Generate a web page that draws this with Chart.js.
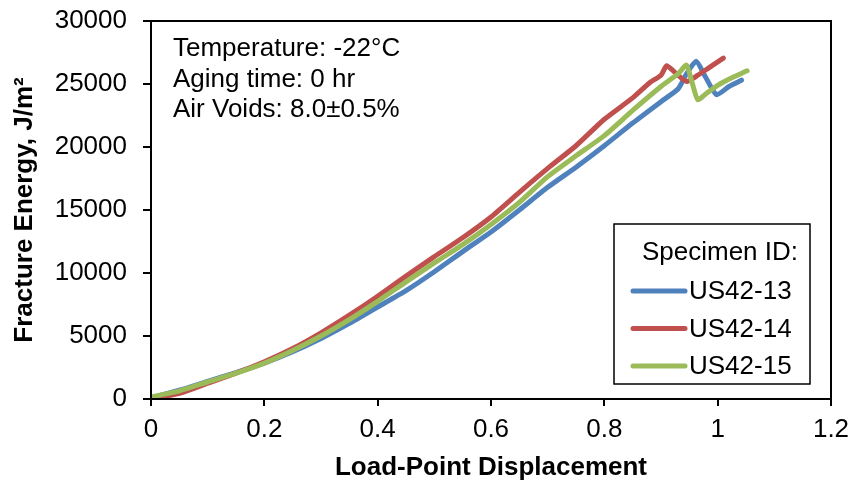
<!DOCTYPE html>
<html>
<head>
<meta charset="utf-8">
<script src="https://cdn.jsdelivr.net/npm/chart.js@4.4.1/dist/chart.umd.min.js"></script>
<style>
  html, body { margin: 0; padding: 0; background: #fff; }
  #wrap { width: 855px; height: 485px; }
</style>
</head>
<body>
<div id="wrap"><canvas id="chartCanvas" width="855" height="485"></canvas></div>
<script>
// Datos (desplazamiento, energía de fractura)
const x13 = [0, 0.05, 0.1, 0.15, 0.2, 0.25, 0.3, 0.35, 0.4, 0.45, 0.5, 0.55, 0.6, 0.65, 0.7, 0.75, 0.8, 0.85, 0.9, 0.93, 0.945, 0.962, 0.978, 0.998, 1.02, 1.042];
const y13 = [100, 700, 1400, 2100, 2850, 3750, 4800, 6000, 7300, 8600, 10100, 11700, 13250, 15000, 16800, 18400, 20100, 21900, 23600, 24600, 25800, 26800, 25600, 24150, 24800, 25300];

const x14 = [0, 0.05, 0.1, 0.15, 0.2, 0.25, 0.3, 0.35, 0.4, 0.45, 0.5, 0.55, 0.6, 0.65, 0.7, 0.75, 0.8, 0.85, 0.88, 0.9, 0.91, 0.925, 0.945, 0.965, 0.985, 1.01];
const y14 = [0, 450, 1250, 2050, 2950, 4000, 5250, 6650, 8150, 9750, 11300, 12800, 14450, 16400, 18300, 20100, 22200, 23900, 25100, 25700, 26450, 25900, 25200, 25700, 26300, 27050];

const x15 = [0, 0.05, 0.1, 0.15, 0.2, 0.25, 0.3, 0.35, 0.4, 0.45, 0.5, 0.55, 0.6, 0.65, 0.7, 0.75, 0.8, 0.85, 0.9, 0.93, 0.945, 0.955, 0.965, 0.98, 1.0, 1.025, 1.052];
const y15 = [150, 650, 1350, 2050, 2850, 3850, 5000, 6300, 7750, 9300, 10800, 12250, 13850, 15600, 17650, 19300, 20900, 22900, 24800, 25800, 26500, 25100, 23750, 24250, 24900, 25500, 26050];

const especimenes = ['US42-13', 'US42-14', 'US42-15'];
const colores = ['#4F81BD', '#C0504D', '#9BBB59'];
const notas = ['Temperature: -22°C', 'Aging time: 0 hr', 'Air Voids: 8.0±0.5%'];

function puntos(xs, ys) {
    return xs.map((x, i) => ({ x: x, y: ys[i] }));
}

const FUENTE = 'Arial, "Liberation Sans", sans-serif';

// Marco del área de trazado, notas y leyenda dibujadas a mano
const extras = {
    id: 'extras',
    afterDraw(chart) {
        const c = chart.ctx;
        const a = chart.chartArea;
        c.save();
        c.strokeStyle = '#000';
        c.lineWidth = 2;
        c.strokeRect(a.left, a.top, a.right - a.left, a.bottom - a.top);

        // notas
        c.fillStyle = '#000';
        c.font = '26px ' + FUENTE;
        c.textAlign = 'left';
        c.textBaseline = 'alphabetic';
        notas.forEach((t, i) => c.fillText(t, 173, 56 + i * 30.5));

        // leyenda
        c.lineWidth = 1.5;
        c.strokeRect(614, 224, 196, 160);
        c.textAlign = 'right';
        c.textBaseline = 'middle';
        c.fillText('Specimen ID:', 798, 253);
        c.textAlign = 'left';
        chart.data.datasets.forEach((ds, i) => {
            const y = 291 + i * 37.5;
            c.strokeStyle = ds.borderColor;
            c.lineWidth = 5;
            c.lineCap = 'round';
            c.beginPath();
            c.moveTo(633, y);
            c.lineTo(685, y);
            c.stroke();
            c.fillStyle = '#000';
            c.fillText(ds.label, 689, y + 1);
        });
        c.restore();
    }
};

const ctx = document.getElementById('chartCanvas').getContext('2d');
const chart = new Chart(ctx, {
    type: 'scatter',
    data: {
        datasets: [
            { label: especimenes[0], data: puntos(x13, y13), borderColor: colores[0], order: 3 },
            { label: especimenes[1], data: puntos(x14, y14), borderColor: colores[1], order: 2 },
            { label: especimenes[2], data: puntos(x15, y15), borderColor: colores[2], order: 1 }
        ].map(d => Object.assign(d, {
            showLine: true,
            borderWidth: 5,
            pointRadius: 0,
            tension: 0.2,
            borderCapStyle: 'round',
            borderJoinStyle: 'round',
            backgroundColor: d.borderColor
        }))
    },
    options: {
        responsive: false,
        animation: false,
        layout: { padding: { top: 21, right: 24, left: 0, bottom: 0 } },
        plugins: {
            legend: { display: false },
            tooltip: { enabled: false }
        },
        scales: {
            x: {
                type: 'linear',
                min: 0,
                max: 1.2,
                afterFit: s => { s.height = 86; s.paddingLeft = 0; s.paddingRight = 0; },
                ticks: {
                    stepSize: 0.2,
                    color: '#000',
                    padding: 8,
                    font: { size: 26, family: FUENTE },
                    callback: v => String(parseFloat(v.toFixed(1)))
                },
                grid: { drawOnChartArea: false, tickLength: 7, color: '#000', lineWidth: 2 },
                border: { color: '#000', width: 2 },
                title: {
                    display: true,
                    text: 'Load-Point Displacement',
                    color: '#000',
                    font: { size: 26, weight: 'bold', family: FUENTE },
                    padding: { top: 0, bottom: 2 }
                }
            },
            y: {
                min: 0,
                max: 30000,
                afterFit: s => { s.width = 151; s.paddingTop = 0; s.paddingBottom = 0; },
                ticks: {
                    stepSize: 5000,
                    color: '#000',
                    padding: 16,
                    font: { size: 26, family: FUENTE },
                    callback: v => String(v)
                },
                grid: { drawOnChartArea: false, tickLength: 8, color: '#000', lineWidth: 2 },
                border: { color: '#000', width: 2 },
                title: {
                    display: true,
                    text: 'Fracture Energy, J/m²',
                    color: '#000',
                    font: { size: 26, weight: 'bold', family: FUENTE },
                    padding: { top: 9, bottom: 0 }
                }
            }
        }
    },
    plugins: [extras]
});
</script>
</body>
</html>
